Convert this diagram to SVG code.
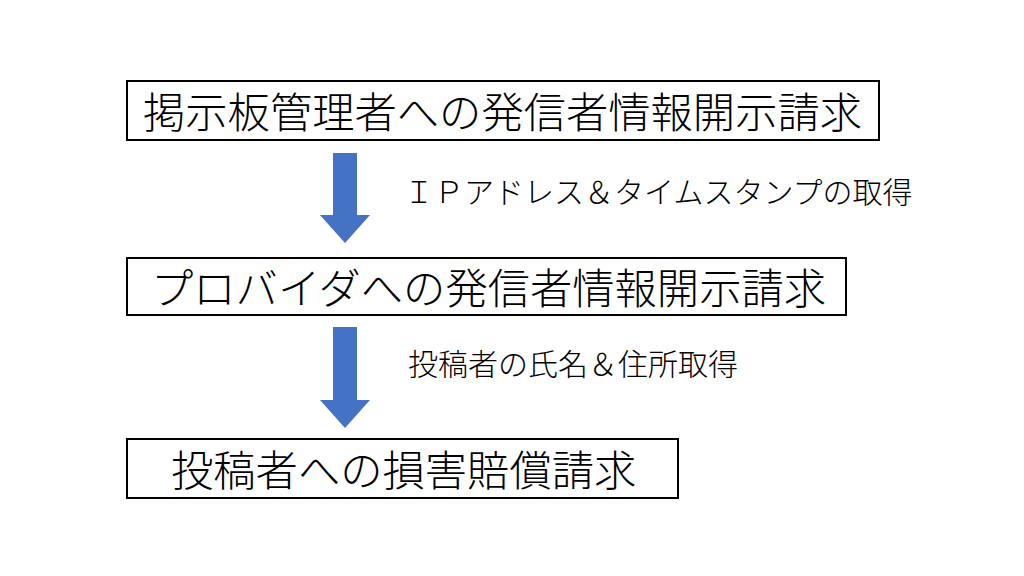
<svg xmlns="http://www.w3.org/2000/svg" width="1024" height="576" viewBox="0 0 1024 576">
<style>
.box{fill:#fff;stroke:#000;stroke-width:2}
.t{font-family:"Noto Sans CJK JP","Noto Sans CJK SC",sans-serif;font-weight:300;fill:#000;dominant-baseline:central}
.big{font-size:42.3px}
.small{font-size:30px}
.arrow{fill:#4472C4}
</style>
<rect width="1024" height="576" fill="#fff"/>
<g id="node1">
<rect class="box" x="127" y="81" width="752" height="59"/>
<text class="t big" x="143" y="109">掲示板管理者への発信者情報開示請求</text>
</g>
<g id="node2">
<rect class="box" x="127" y="258" width="719" height="57"/>
<text class="t big" x="151" y="285">プロバイダへの発信者情報開示請求</text>
</g>
<g id="node3">
<rect class="box" x="127" y="439" width="551" height="59"/>
<text class="t big" x="171" y="467">投稿者への損害賠償請求</text>
</g>
<g id="connectors">
<polygon class="arrow" points="333,153 357,153 357,215 370,215 345,243 320,215 333,215"/>
<polygon class="arrow" points="333,327 357,327 357,400 370,400 345,428 320,400 333,400"/>
<text class="t small" x="404" y="190">ＩＰアドレス＆タイムスタンプの取得</text>
<text class="t small" x="408" y="362">投稿者の氏名＆住所取得</text>
</g>
</svg>
